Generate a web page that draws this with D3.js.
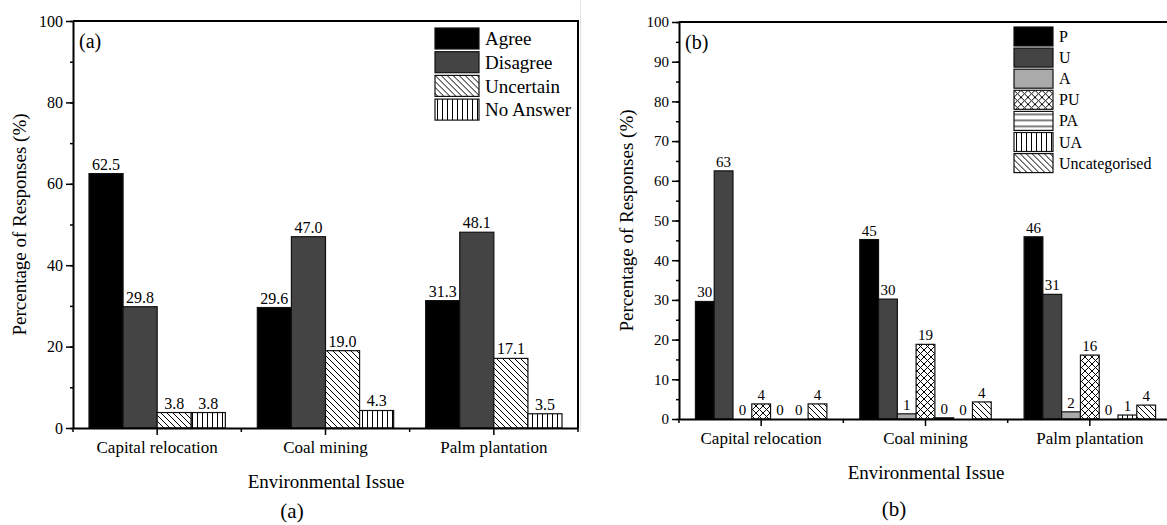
<!DOCTYPE html>
<html>
<head>
<meta charset="utf-8">
<script src="https://cdn.jsdelivr.net/npm/d3@7"></script>
<style>
  body { margin: 0; background: #fff; }
  svg { display: block; font-family: "Liberation Serif", "Times New Roman", serif; }
</style>
</head>
<body>
<div id="chart"></div>
<script>
// Data
const categories = ["Capital relocation", "Coal mining", "Palm plantation"];

// panel (a)
const seriesA = ["Agree", "Disagree", "Uncertain", "No Answer"];
const agree = [62.5, 29.6, 31.3];
const disagree = [29.8, 47.0, 48.1];
const uncertain = [3.8, 19.0, 17.1];
const noAnswer = [3.8, 4.3, 3.5];

// panel (b)
const seriesB = ["P", "U", "A", "PU", "PA", "UA", "Uncategorised"];
const valP = [29.6, 45.2, 45.9];
const valU = [62.5, 30.2, 31.4];
const valA = [0, 1.3, 1.8];
const valPU = [3.8, 18.8, 16.1];
const valPA = [0, 0.3, 0];
const valUA = [0, 0, 1.0];
const valUncat = [3.8, 4.3, 3.5];

const ticksA = [0, 20, 40, 60, 80, 100];
const ticksB = [0, 10, 20, 30, 40, 50, 60, 70, 80, 90, 100];

const svg = d3.select("#chart").append("svg")
    .attr("width", 1167)
    .attr("height", 525);

// Fill patterns
const defs = svg.append("defs");
function pattern(id, size, d) {
    const p = defs.append("pattern")
        .attr("id", id)
        .attr("patternUnits", "userSpaceOnUse")
        .attr("width", size).attr("height", size);
    p.append("rect").attr("width", size).attr("height", size).attr("fill", "#fff");
    p.append("path").attr("d", d).attr("stroke", "#000").attr("stroke-width", 1).attr("fill", "none");
}
pattern("diag", 6, "M0,0L6,6M-1,5L1,7M5,-1L7,1");
pattern("vert", 5, "M2.5,0V5");
pattern("horiz", 6, "M0,3H6");
pattern("cross", 7, "M0,0L7,7M-1,6L1,8M6,-1L8,1M0,7L7,0M-1,1L1,-1M6,8L8,6");

const fills = {
    "Agree": "#000", "Disagree": "#444", "Uncertain": "url(#diag)", "No Answer": "url(#vert)",
    "P": "#000", "U": "#444", "A": "#aaa", "PU": "url(#cross)", "PA": "url(#horiz)",
    "UA": "url(#vert)", "Uncategorised": "url(#diag)"
};

// faint separator between the two panels
svg.append("line")
    .attr("x1", 580.5).attr("x2", 580.5).attr("y1", 0).attr("y2", 432)
    .attr("stroke", "#e2e2e2");

function drawPanel(cfg) {
    const g = svg.append("g");
    const x = d3.scaleBand().domain(categories).range([cfg.left, cfg.right]);
    const xs = d3.scaleBand().domain(cfg.series)
        .range([x.bandwidth() * cfg.inset, x.bandwidth() * (1 - cfg.inset)]);
    const y = d3.scaleLinear().domain([0, 100]).range([cfg.bottom, cfg.top]);

    // bars
    const rows = [];
    categories.forEach((c, i) => {
        cfg.series.forEach((s, j) => rows.push({cat: c, s: s, v: cfg.values[j][i]}));
    });
    g.selectAll(".bar").data(rows).enter().append("rect")
        .attr("x", d => x(d.cat) + xs(d.s))
        .attr("y", d => y(d.v))
        .attr("width", xs.bandwidth())
        .attr("height", d => y(0) - y(d.v))
        .attr("fill", d => fills[d.s])
        .attr("stroke", d => d.v > 0 ? "#111" : "none")
        .attr("stroke-width", 1.2);

    g.selectAll(".lbl").data(rows).enter().append("text")
        .attr("x", d => x(d.cat) + xs(d.s) + xs.bandwidth() / 2)
        .attr("y", d => y(d.v) - 4)
        .attr("text-anchor", "middle")
        .style("font-size", cfg.labelSize + "px")
        .text(d => cfg.fmt(d.v));

    // y axis with minor ticks
    g.append("g")
        .attr("transform", `translate(${cfg.left},0)`)
        .call(d3.axisLeft(y).tickValues(d3.range(0, 101, cfg.minor)).tickSize(3).tickFormat(""))
        .call(a => a.select(".domain").remove())
        .selectAll("line").attr("stroke-width", 1.5);
    const ya = g.append("g")
        .attr("transform", `translate(${cfg.left},0)`)
        .call(d3.axisLeft(y).tickValues(cfg.ticks).tickSize(7).tickSizeOuter(0).tickPadding(3))
        .attr("font-family", null);
    ya.select(".domain").attr("stroke-width", 2);
    ya.selectAll("line").attr("stroke-width", 1.5);
    ya.selectAll("text").style("font-size", cfg.tickSize + "px");

    // x axis: category ticks and in-between ticks
    const xa = g.append("g")
        .attr("transform", `translate(0,${cfg.bottom})`)
        .call(d3.axisBottom(x).tickSize(7).tickSizeOuter(0).tickPadding(6))
        .attr("font-family", null);
    xa.select(".domain").attr("stroke-width", 2);
    xa.selectAll("line").attr("stroke-width", 1.5);
    xa.selectAll("text").style("font-size", "17px");
    const edges = categories.map(c => x(c)).concat([cfg.right]);
    g.selectAll(".mt").data(edges).enter().append("line")
        .attr("x1", d => d).attr("x2", d => d)
        .attr("y1", cfg.bottom).attr("y2", cfg.bottom + 4)
        .attr("stroke", "#000").attr("stroke-width", 1.5);

    // frame (top and right)
    g.append("path")
        .attr("d", `M${cfg.left},${cfg.top}H${cfg.right}V${cfg.bottom}`)
        .attr("fill", "none").attr("stroke", "#000").attr("stroke-width", 2);

    // panel tag
    g.append("text")
        .attr("x", cfg.left + 6).attr("y", cfg.top + 27)
        .style("font-size", "20px")
        .text(cfg.tag);

    // axis titles
    g.append("text")
        .attr("transform", `translate(${cfg.yTitleX},${(cfg.top + cfg.bottom) / 2}) rotate(-90)`)
        .attr("text-anchor", "middle")
        .attr("dy", "0.35em")
        .style("font-size", "19px")
        .text("Percentage of Responses (%)");
    g.append("text")
        .attr("x", cfg.xTitleX).attr("y", cfg.xTitleY)
        .attr("text-anchor", "middle")
        .style("font-size", "19px")
        .text("Environmental Issue");
    g.append("text")
        .attr("x", cfg.capX).attr("y", cfg.capY)
        .attr("text-anchor", "middle")
        .style("font-size", "21px")
        .text(cfg.tag);

    // legend
    const lg = g.append("g").attr("transform", `translate(${cfg.legX},${cfg.legY})`);
    const item = lg.selectAll("g").data(cfg.series).enter().append("g")
        .attr("transform", (d, i) => `translate(0,${i * cfg.legStep})`);
    item.append("rect")
        .attr("width", cfg.legW).attr("height", cfg.legH)
        .attr("fill", d => fills[d])
        .attr("stroke", "#111").attr("stroke-width", 1.2);
    item.append("text")
        .attr("x", cfg.legW + 6).attr("y", cfg.legH / 2)
        .attr("dy", "0.35em")
        .style("font-size", cfg.legFont + "px")
        .text(d => d);
}

drawPanel({
    tag: "(a)", left: 73, right: 578, top: 21, bottom: 428,
    series: seriesA, values: [agree, disagree, uncertain, noAnswer],
    inset: 0.095, ticks: ticksA, minor: 10, tickSize: 16, labelSize: 16,
    fmt: d3.format(".1f"),
    yTitleX: 19, xTitleX: 326, xTitleY: 488, capX: 292, capY: 518,
    legX: 435, legY: 28, legStep: 23.7, legW: 44, legH: 21, legFont: 19
});

drawPanel({
    tag: "(b)", left: 679, right: 1172, top: 22, bottom: 419,
    series: seriesB, values: [valP, valU, valA, valPU, valPA, valUA, valUncat],
    inset: 0.1, ticks: ticksB, minor: 5, tickSize: 15, labelSize: 15,
    fmt: d => String(Math.round(d)),
    yTitleX: 626, xTitleX: 926, xTitleY: 479, capX: 894, capY: 516,
    legX: 1014, legY: 27, legStep: 21.1, legW: 39, legH: 19, legFont: 16
});
</script>
</body>
</html>
